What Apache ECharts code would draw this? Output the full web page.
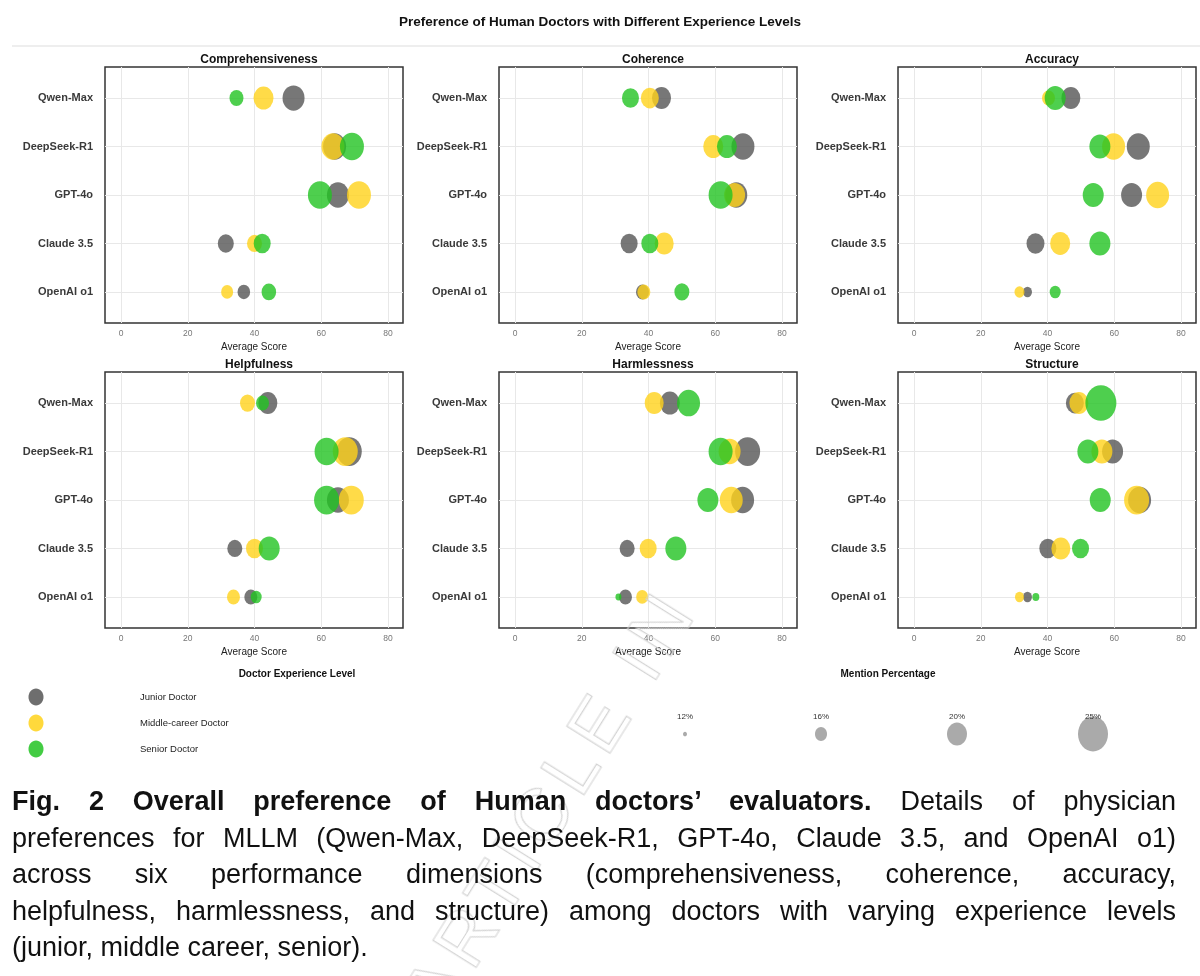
<!DOCTYPE html>
<html>
<head>
<meta charset="utf-8" />
<script src="https://cdn.jsdelivr.net/npm/echarts@6/dist/echarts.min.js"></script>
<style>
  body { margin: 0; background: #fff; width: 1200px; height: 976px; overflow: hidden; position: relative; }
  #chart { width: 1200px; height: 775px; }
  #caption { position: absolute; left: 12px; top: 783px; width: 1164px; font-family: "Liberation Sans", Arial, sans-serif;
    font-size: 27px; line-height: 36.6px; color: #111; }
  #caption span { display: block; text-align: justify; text-align-last: justify; white-space: nowrap; }
  #caption span.last { text-align-last: left; }
  #wm { position: absolute; left: 385px; top: 985px; font-family: "Liberation Sans", Arial, sans-serif; font-size: 74px;
    color: transparent; -webkit-text-stroke: 1.2px #d4d4d4; transform: rotate(-58deg); transform-origin: left top; white-space: nowrap; letter-spacing: 8px; }
</style>
</head>
<body>
<div id="chart"></div>
<div id="wm">ARTICLE IN</div>
<div id="caption">
  <span><b>Fig. 2 Overall preference of Human doctors’ evaluators.</b> Details of physician</span>
  <span>preferences for MLLM (Qwen-Max, DeepSeek-R1, GPT-4o, Claude 3.5, and OpenAI o1)</span>
  <span>across six performance dimensions (comprehensiveness, coherence, accuracy,</span>
  <span>helpfulness, harmlessness, and structure) among doctors with varying experience levels</span>
  <span class="last">(junior, middle career, senior).</span>
</div>
<script>
// models top to bottom
var models = ["Qwen-Max", "DeepSeek-R1", "GPT-4o", "Claude 3.5", "OpenAI o1"];
var metrics = ["Comprehensiveness", "Coherence", "Accuracy", "Helpfulness", "Harmlessness", "Structure"];
var levels = ["Junior Doctor", "Middle-career Doctor", "Senior Doctor"];
var colors = ["#555555", "#FFD21A", "#22C322"];

// average scores [metric][level][model]
var scores = [
  [[51.7, 64.0, 65.0, 31.4, 36.8], [42.7, 63.5, 71.3, 40.0, 31.8], [34.6, 69.2, 59.6, 42.3, 44.3]],
  [[43.9, 68.3, 66.3, 34.2, 38.2], [40.4, 59.4, 65.8, 44.7, 38.6], [34.6, 63.5, 61.6, 40.4, 50.0]],
  [[47.0, 67.2, 65.2, 36.4, 34.0], [40.3, 59.8, 73.0, 43.8, 31.6], [42.3, 55.7, 53.7, 55.7, 42.3]],
  [[44.0, 68.4, 65.0, 34.1, 38.9], [37.9, 67.2, 69.0, 40.0, 33.7], [42.4, 61.6, 61.6, 44.4, 40.5]],
  [[46.4, 69.7, 68.2, 33.6, 33.1], [41.7, 64.3, 64.8, 39.9, 38.1], [52.0, 61.6, 57.8, 48.2, 31.0]],
  [[48.2, 59.5, 67.6, 40.1, 34.0], [49.4, 56.3, 66.7, 44.0, 31.6], [56.0, 52.1, 55.8, 49.9, 36.5]]
];
// mention percentage [metric][level][model]
var pcts = [
  [[21, 21.5, 21, 18, 16.3], [20, 21.5, 22, 17.5, 16], [17, 22, 22, 18.5, 17.3]],
  [[19.5, 21.5, 21, 18.5, 16.5], [19, 20, 20.5, 19.5, 16.5], [18.5, 20, 22, 18.5, 17.5]],
  [[19.5, 21.5, 20.5, 19, 14.5], [16.5, 21.5, 21.5, 20, 15], [20.5, 20.5, 20.5, 20.5, 15.5]],
  [[19.5, 22.5, 21, 17.5, 16.5], [17.5, 22.5, 22.5, 18.5, 16.5], [16.5, 22, 22.5, 20.5, 15.5]],
  [[20, 22.5, 21.5, 17.5, 16.5], [19.5, 21, 21.5, 18.5, 16], [21.5, 22, 20.5, 20.5, 13]],
  [[19, 20.5, 21.5, 18.5, 14.5], [19.5, 20.5, 22.5, 19.5, 14.5], [25.5, 20.5, 20.5, 18.5, 13.5]]
];
var sizeLegend = [12, 16, 20, 25];

function diam(p) { return 4 + (p - 12) * 2; }

var chart = echarts.init(document.getElementById("chart"));
var lefts = [105, 499, 898], tops = [67, 372], W = 298, H = 256;
var grids = [], xAxes = [], yAxes = [], series = [], titles = [];
var font = "Liberation Sans";

metrics.forEach(function (m, i) {
  var c = i % 3, r = Math.floor(i / 3);
  grids.push({ left: lefts[c], top: tops[r], width: W, height: H, show: true, borderColor: "#333", borderWidth: 1.5, backgroundColor: "#fff" });
  titles.push({ text: m, left: lefts[c] + W / 2, top: tops[r] - 18, textAlign: "center",
    textStyle: { fontFamily: font, fontSize: 12, fontWeight: "bold", color: "#111" } });
  xAxes.push({ gridIndex: i, type: "value", min: -4.8, max: 84.5,
    name: "Average Score", nameLocation: "middle", nameGap: 19,
    nameTextStyle: { fontFamily: font, fontSize: 10, color: "#222" },
    axisLine: { show: false }, axisTick: { show: false, customValues: [0, 20, 40, 60, 80] },
    axisLabel: { customValues: [0, 20, 40, 60, 80], fontFamily: font, fontSize: 8.5, color: "#777", margin: 6 },
    splitLine: { show: true, lineStyle: { color: "#e8e8e8" } } });
  yAxes.push({ gridIndex: i, type: "value", inverse: true, min: -0.64, max: 4.64,
    axisLine: { show: false }, axisTick: { show: false, customValues: [0, 1, 2, 3, 4] },
    axisLabel: { customValues: [0, 1, 2, 3, 4], formatter: function (v) { return models[Math.round(v)]; },
      fontFamily: font, fontSize: 11, fontWeight: "bold", color: "#3a3a3a", margin: 12 },
    splitLine: { show: true, lineStyle: { color: "#e8e8e8" } } });
  levels.forEach(function (lv, k) {
    series.push({ type: "scatter", name: lv, xAxisIndex: i, yAxisIndex: i,
      data: scores[i][k].map(function (s, j) { return [s, j, pcts[i][k][j]]; }),
      symbolSize: function (v) { var d = diam(v[2]); return [d, d * 1.15]; },
      itemStyle: { color: colors[k], opacity: 0.8 }, z: 2 + k });
  });
});

titles.push({ text: "Preference of Human Doctors with Different Experience Levels", left: "center", top: 10,
  textStyle: { fontFamily: font, fontSize: 13.5, fontWeight: "bold", color: "#111" } });

var graphic = [
  { type: "line", shape: { x1: 12, y1: 46, x2: 1200, y2: 46 }, style: { stroke: "#ddd", lineWidth: 1 } },
  { type: "text", x: 297, y: 674, style: { text: "Doctor Experience Level", font: "bold 10px Liberation Sans", fill: "#111", textAlign: "center", textVerticalAlign: "middle" } },
  { type: "text", x: 888, y: 674, style: { text: "Mention Percentage", font: "bold 10px Liberation Sans", fill: "#111", textAlign: "center", textVerticalAlign: "middle" } }
];
levels.forEach(function (lv, k) {
  var y = 697 + k * 26;
  graphic.push({ type: "ellipse", shape: { cx: 36, cy: y, rx: 7.5, ry: 8.5 }, style: { fill: colors[k], opacity: 0.85 } });
  graphic.push({ type: "text", x: 140, y: y, style: { text: lv, font: "9.5px Liberation Sans", fill: "#222", textVerticalAlign: "middle" } });
});
sizeLegend.forEach(function (p, k) {
  var x = 685 + k * 136, d = diam(p);
  graphic.push({ type: "ellipse", shape: { cx: x, cy: 734, rx: d / 2, ry: d * 0.58 }, style: { fill: "#aaa" } });
  graphic.push({ type: "text", x: x, y: 717, style: { text: p + "%", font: "8px Liberation Sans", fill: "#333", textAlign: "center", textVerticalAlign: "middle" } });
});

chart.setOption({
  animation: false,
  title: titles,
  grid: grids,
  xAxis: xAxes,
  yAxis: yAxes,
  series: series,
  graphic: graphic
});
</script>
</body>
</html>
